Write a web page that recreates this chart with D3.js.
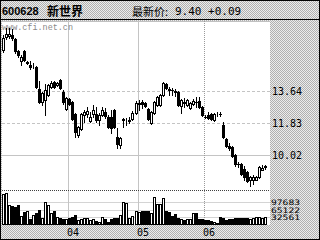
<!DOCTYPE html>
<html>
  <head>
    <meta charset="utf-8">
    <title>600628 新世界</title>
    <script src="https://d3js.org/d3.v7.min.js" charset="utf-8"></script>
    <style>
      body{ margin:0; background:#fff; }
      svg{ display:block; }
      text{ font-family: 'DejaVu Sans Mono', monospace; }
    </style>
  </head>
  <body>
    <svg></svg>
    <script>

      //begin: data
      var stockCode = "600628",
          stockName = "新世界",
          lastPrice = 9.40,
          lastChange = 0.09;

      var openPrices = [
        15.96,16.69,16.75,16.81,16.58,15.90,15.34,15.90,15.25,15.11,
        15.11,15.00,13.75,13.02,13.13,13.42,13.87,14.15,13.98,14.26,
        13.59,12.63,13.19,13.02,12.34,11.15,11.49,12.29,12.34,11.94,
        12.34,12.34,12.00,12.29,12.46,12.17,12.17,12.57,11.04,10.59,
        12.00,11.92,11.94,12.06,12.40,12.90,13.02,12.96,12.63,11.83,
        12.40,12.85,12.85,13.41,14.03,13.75,13.70,13.64,13.58,12.79,
        13.02,12.85,12.68,12.90,13.02,13.07,12.74,12.17,12.29,12.34,
        12.00,12.34,12.34,11.72,10.93,10.53,10.47,10.02,9.51,9.51,
        9.23,9.06,8.61,8.61,8.61,8.78,9.17,9.32];
      var highPrices = [
        16.81,17.20,17.20,17.15,16.63,15.96,15.67,15.96,15.34,15.34,
        15.22,15.05,14.20,13.59,14.03,14.03,14.20,14.20,14.15,14.32,
        13.70,13.30,13.24,13.07,12.40,11.66,12.40,12.57,12.74,12.46,
        12.85,12.74,12.40,12.74,12.68,12.29,12.57,12.63,11.55,11.04,
        12.12,12.12,12.17,12.51,13.07,13.13,13.13,13.02,12.68,12.51,
        13.07,13.36,13.47,14.15,14.09,13.87,13.81,13.75,13.64,13.19,
        13.24,13.19,13.02,13.19,13.30,13.30,12.79,12.29,12.46,12.40,
        12.40,12.46,12.46,11.89,10.98,10.70,10.53,10.08,9.62,9.57,
        9.40,9.12,8.83,8.89,8.83,9.40,9.45,9.45];
      var lowPrices = [
        15.85,16.58,16.63,16.52,15.79,15.56,15.11,15.34,15.17,14.88,
        14.94,13.81,12.96,12.85,12.29,13.36,13.81,13.81,13.92,13.75,
        12.90,12.57,12.85,12.00,11.04,11.04,11.43,11.89,12.17,11.89,
        12.17,11.89,11.72,12.23,12.12,11.55,11.26,11.55,10.42,10.42,
        11.60,11.72,11.83,12.00,12.34,12.57,12.68,12.74,12.00,11.77,
        12.34,12.79,12.79,13.36,13.75,13.41,13.41,13.36,12.79,12.40,
        12.74,12.79,12.63,12.85,12.74,12.68,12.23,12.12,12.06,12.00,
        11.94,12.23,12.23,10.98,10.47,10.30,9.91,9.40,9.34,8.89,
        8.61,8.49,8.27,8.38,8.58,8.72,9.15,9.23];
      var closePrices = [
        16.63,16.86,16.86,16.63,15.90,15.67,15.56,15.39,15.28,15.00,
        15.12,13.87,13.02,13.53,13.70,13.98,14.09,13.87,14.09,13.81,
        13.02,13.24,12.90,12.06,11.32,11.60,12.34,12.46,12.51,12.17,
        12.57,12.00,12.29,12.57,12.23,11.60,11.55,11.60,10.64,10.98,
        12.03,11.95,12.00,12.40,12.96,12.96,12.90,12.79,12.06,12.46,
        13.02,13.30,13.41,14.09,13.81,13.72,13.68,13.58,12.85,13.13,
        12.96,13.13,12.96,13.07,13.00,12.74,12.29,12.15,12.12,12.06,
        12.34,12.36,12.33,11.04,10.53,10.42,9.96,9.51,9.49,8.94,
        8.78,8.55,8.78,8.78,8.78,9.34,9.31,9.40];
      var volumes = [
        131000,138000,85000,79000,77000,85000,37000,54000,59000,22000,
        41000,51000,63000,30000,99000,85000,51000,59000,33000,27000,
        22000,22000,30000,34000,40000,18000,22000,27000,27000,20000,
        22000,17000,11000,34000,22000,11000,25000,27000,27000,40000,
        97000,95000,27000,37000,59000,56000,59000,59000,59000,51000,
        119000,90000,90000,114000,59000,56000,37000,44000,30000,22000,
        20000,25000,22000,48000,48000,25000,22000,18000,18000,15000,
        11000,8000,33000,30000,18000,22000,25000,30000,30000,30000,
        27000,27000,22000,30000,34000,34000,30000,34000];

      var monthLabels = ["04", "05", "06"];
      var monthStartIndex = [22, 45, 67];
      var priceTicks = [10.02, 11.83, 13.64];
      var volumeTicks = [32561, 65122, 97683];
      //end: data

      //begin: layout conf.
      var svgWidth = 320,
          svgHeight = 240,
          plotLeft = 2,
          plotRight = 270,
          plotTop = 21,
          priceBottom = 190,
          volumeBottom = 225;
      //end: layout conf.

      var n = closePrices.length;

      var x = d3.scaleBand()
        .domain(d3.range(n))
        .range([2, 267]);

      var y = d3.scaleLinear()
        .domain([8.04, 17.60])
        .range([priceBottom, plotTop]);

      var yVol = d3.scaleLinear()
        .domain([0, 97683])
        .range([224.5, 202]);

      function isUp(i){ return closePrices[i] >= openPrices[i]; }

      var svg = d3.select("svg")
        .attr("width", svgWidth)
        .attr("height", svgHeight)
        .attr("shape-rendering", "crispEdges");

      // dithered gray background
      var pat = svg.append("defs").append("pattern")
        .attr("id", "dither")
        .attr("width", 2).attr("height", 2)
        .attr("patternUnits", "userSpaceOnUse");
      pat.append("rect").attr("width", 2).attr("height", 2).attr("fill", "#ececec");
      pat.append("rect").attr("width", 1).attr("height", 1).attr("fill", "#b0b0b0");
      pat.append("rect").attr("x", 1).attr("y", 1).attr("width", 1).attr("height", 1).attr("fill", "#b0b0b0");

      svg.append("rect")
        .attr("width", svgWidth).attr("height", svgHeight)
        .attr("fill", "url(#dither)");

      svg.append("rect")
        .attr("x", plotLeft).attr("y", plotTop)
        .attr("width", plotRight - plotLeft).attr("height", volumeBottom - plotTop)
        .attr("fill", "#fff");

      svg.append("rect")
        .attr("x", 0.5).attr("y", 0.5)
        .attr("width", svgWidth - 1).attr("height", svgHeight - 1)
        .attr("fill", "none").attr("stroke", "#000");

      svg.append("line")
        .attr("x1", 0).attr("x2", svgWidth).attr("y1", 19.5).attr("y2", 19.5)
        .attr("stroke", "#000");

      svg.append("line")
        .attr("x1", plotLeft).attr("x2", plotRight).attr("y1", plotTop + 0.5).attr("y2", plotTop + 0.5)
        .attr("stroke", "#c0c0c0");

      //begin: grid
      var grid = svg.append("g").classed("grid", true);

      grid.selectAll(".hgrid")
        .data(priceTicks)
        .enter().append("line")
          .attr("x1", plotLeft).attr("x2", plotRight)
          .attr("y1", function(d){ return Math.round(y(d)) + 0.5; })
          .attr("y2", function(d){ return Math.round(y(d)) + 0.5; })
          .attr("stroke", "#c4c4c4")
          .attr("stroke-dasharray", function(d, i){ return i === 0 ? null : "3,2"; });

      grid.selectAll(".vgrid")
        .data(volumeTicks)
        .enter().append("line")
          .attr("x1", plotLeft).attr("x2", plotRight)
          .attr("y1", function(d){ return Math.round(yVol(d)) + 0.5; })
          .attr("y2", function(d){ return Math.round(yVol(d)) + 0.5; })
          .attr("stroke", "#d4d4d4");

      grid.selectAll(".mgrid")
        .data(monthStartIndex)
        .enter().append("line")
          .attr("x1", function(d){ return Math.round(x(d)) + 0.5; })
          .attr("x2", function(d){ return Math.round(x(d)) + 0.5; })
          .attr("y1", plotTop).attr("y2", volumeBottom)
          .attr("stroke", function(d, i){ return i === 2 ? "#9a9a9a" : "#c4c4c4"; })
          .attr("stroke-dasharray", function(d, i){ return i === 2 ? "1,1" : null; });

      svg.append("line")
        .attr("x1", plotLeft).attr("x2", plotRight)
        .attr("y1", priceBottom + 0.5).attr("y2", priceBottom + 0.5)
        .attr("stroke", "#404040").attr("stroke-dasharray", "1,1");
      //end: grid

      svg.append("text")
        .attr("x", 2).attr("y", 30)
        .attr("textLength", 71).attr("lengthAdjust", "spacingAndGlyphs")
        .style("font-family", "'Liberation Mono', monospace")
        .style("font-size", "9px")
        .attr("fill", "#8a8a8a")
        .text("www.cfi.net.cn");

      //begin: candles
      var candles = svg.append("g").classed("candles", true)
        .selectAll(".candle")
        .data(d3.range(n))
        .enter().append("g")
          .classed("candle", true)
          .attr("transform", function(i){ return "translate(" + Math.round(x(i)) + ",0)"; });

      candles.append("line")
        .attr("x1", 1.5).attr("x2", 1.5)
        .attr("y1", function(i){ return Math.round(y(highPrices[i])); })
        .attr("y2", function(i){ return Math.round(y(lowPrices[i])) + 1; })
        .attr("stroke", "#000");

      candles.append("rect")
        .attr("x", function(i){ return isUp(i) ? 0.5 : 0; })
        .attr("y", function(i){
          var t = Math.round(y(Math.max(openPrices[i], closePrices[i])));
          return isUp(i) ? t + 0.5 : t;
        })
        .attr("width", function(i){ return isUp(i) ? 2 : 3; })
        .attr("height", function(i){
          var t = Math.round(y(Math.max(openPrices[i], closePrices[i]))),
              b = Math.round(y(Math.min(openPrices[i], closePrices[i])));
          return isUp(i) ? Math.max(b - t, 0) : Math.max(b - t, 0) + 1;
        })
        .attr("fill", function(i){ return isUp(i) ? "#fff" : "#000"; })
        .attr("stroke", function(i){ return isUp(i) ? "#000" : "none"; });
      //end: candles

      //begin: volume
      svg.append("g").classed("volume", true)
        .selectAll(".bar")
        .data(d3.range(n))
        .enter().append("rect")
          .attr("x", function(i){ return Math.round(x(i)) + (isUp(i) ? 0.5 : 0); })
          .attr("y", function(i){
            var t = Math.round(yVol(volumes[i]));
            return isUp(i) ? t + 0.5 : t;
          })
          .attr("width", function(i){ return isUp(i) ? 2 : 3; })
          .attr("height", function(i){
            var t = Math.round(yVol(volumes[i]));
            return isUp(i) ? volumeBottom - t - 1 : volumeBottom - t;
          })
          .attr("fill", function(i){ return isUp(i) ? "#fff" : "#000"; })
          .attr("stroke", function(i){ return isUp(i) ? "#000" : "none"; });
      //end: volume

      //begin: labels
      svg.append("g").selectAll("text")
        .data(priceTicks)
        .enter().append("text")
          .attr("x", 272)
          .attr("y", function(d){ return y(d) + 4; })
          .style("font-size", "10px")
          .text(function(d){ return d.toFixed(2); });

      svg.append("g").selectAll("text")
        .data(volumeTicks)
        .enter().append("text")
          .attr("x", 271)
          .attr("y", function(d){ return yVol(d) + 3; })
          .attr("textLength", 29).attr("lengthAdjust", "spacingAndGlyphs")
          .style("font-size", "7.5px")
          .text(function(d){ return d; });

      svg.append("g").selectAll("text")
        .data(monthStartIndex)
        .enter().append("text")
          .attr("x", function(d){ return Math.round(x(d)) - 1; })
          .attr("y", 236)
          .style("font-size", "10px")
          .text(function(d, i){ return monthLabels[i]; });

      svg.append("text")
        .attr("x", 2).attr("y", 15)
        .style("font-family", "'Liberation Sans', sans-serif")
        .style("font-size", "11px").style("font-weight", "bold")
        .text(stockCode);

      svg.append("text")
        .attr("x", 47).attr("y", 15.5)
        .style("font-family", "'Noto Sans CJK SC', sans-serif")
        .style("font-size", "12px").style("font-weight", "bold")
        .text(stockName);

      svg.append("text")
        .attr("x", 132).attr("y", 15.5)
        .style("font-family", "'Noto Sans CJK SC', sans-serif")
        .style("font-size", "11px")
        .text("最新价:");

      svg.append("text")
        .attr("x", 175).attr("y", 15)
        .style("font-size", "11px")
        .text(lastPrice.toFixed(2) + " " + (lastChange >= 0 ? "+" : "") + lastChange.toFixed(2));
      //end: labels

    </script>
  </body>
</html>
